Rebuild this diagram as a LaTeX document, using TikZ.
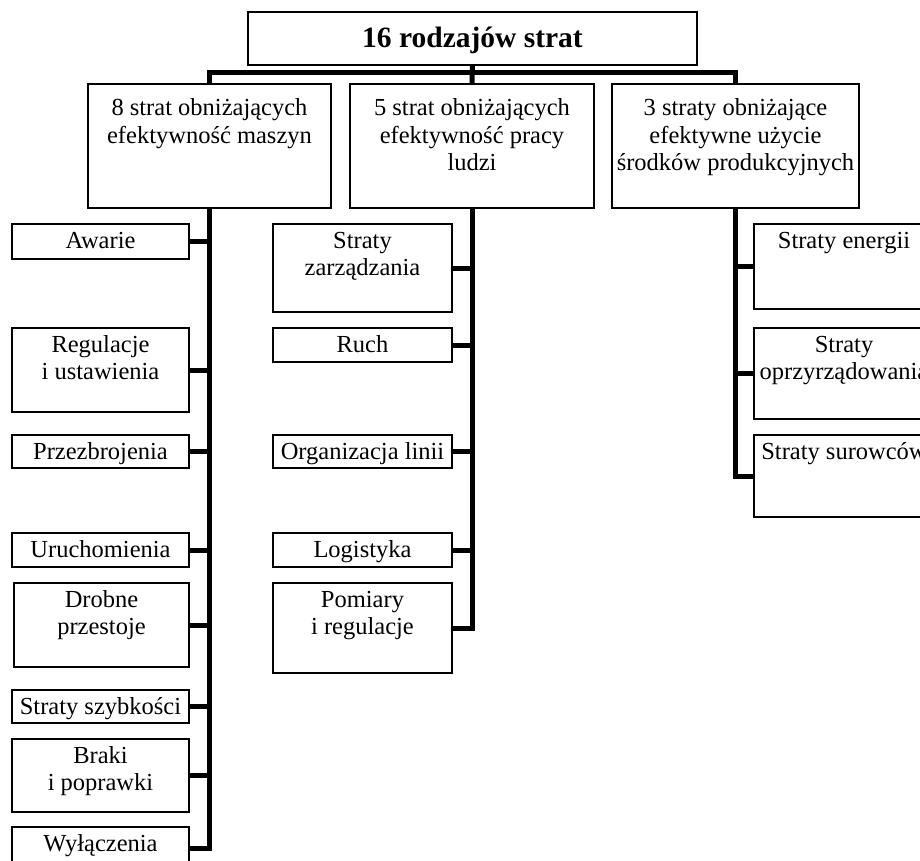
\documentclass[tikz,border=0pt]{standalone}
\usepackage{fontspec}
\setmainfont{Liberation Serif}
\tikzset{
  box/.style={draw=black, line width=1.3pt, inner sep=0pt, outer sep=0pt, fill=white},
  conn/.style={draw=black, line width=5pt, line join=miter, line cap=butt},
}
% name, x1, y1, x2, y2, first-baseline offset, font, text
\newcommand\bx[8]{%
  \node[box, anchor=north west] (#1) at (#2,#3)
    {\parbox[c][\dimexpr#5pt-#3pt\relax][t]{\dimexpr#4pt-#2pt\relax}%
      {#7\centering\rule{0pt}{#6pt}#8\par}};}
\newcommand\nf{\fontsize{24.5}{27.5}\selectfont}
\newcommand\tf{\fontsize{29.5}{32}\selectfont\bfseries}
\begin{document}
\begin{tikzpicture}[x=1pt,y=-1pt]
\useasboundingbox (0,0) rectangle (920,861);
\clip (0,0) rectangle (920,861);
% top
\bx{top}{248}{12}{697}{65}{35.5}{\tf}{16 rodzajów strat}
% level 2
\bx{b1}{88}{84}{331}{208}{32}{\nf}{8 strat obniżających\\efektywność maszyn}
\bx{b2}{350}{84}{594}{208}{32}{\nf}{5 strat obniżających\\efektywność pracy\\ludzi}
\bx{b3}{612}{84}{859}{208}{32}{\nf}{3 straty obniżające\\efektywne użycie\\środków produkcyjnych}
% left leaves
\bx{l1}{12}{224}{189}{259}{24}{\nf}{Awarie}
\bx{l2}{12}{328}{189}{412}{24}{\nf}{Regulacje\\i ustawienia}
\bx{l3}{12}{435}{189}{468}{24}{\nf}{Przezbrojenia}
\bx{l4}{12}{533}{189}{567}{24}{\nf}{Uruchomienia}
\bx{l5}{14}{583}{189}{667}{24}{\nf}{Drobne\\przestoje}
\bx{l6}{12}{690}{189}{723}{24}{\nf}{Straty szybkości}
\bx{l7}{12}{739}{189}{812}{24}{\nf}{Braki\\i poprawki}
\bx{l8}{12}{827}{189}{869}{24}{\nf}{Wyłączenia}
% middle leaves
\bx{m1}{273}{224}{452}{312}{24}{\nf}{Straty\\zarządzania}
\bx{m2}{273}{328}{452}{362}{24}{\nf}{Ruch}
\bx{m3}{273}{435}{452}{468}{24}{\nf}{Organizacja linii}
\bx{m4}{273}{533}{452}{567}{24}{\nf}{Logistyka}
\bx{m5}{273}{583}{452}{673}{24}{\nf}{Pomiary\\i regulacje}
% right leaves
\bx{r1}{754}{224}{934}{309}{24}{\nf}{Straty energii}
\bx{r2}{754}{328}{934}{419}{24}{\nf}{Straty\\oprzyrządowania}
\bx{r3}{754}{435}{934}{517}{24}{\nf}{Straty surowców}
% bus
\draw[conn] (top.south) -- (b2.north);
\draw[conn] (b1.north) -- ++(0,-11) -| (b3.north);
% left trunk
\draw[conn] (b1.south) |- (l8.east);
\foreach \n in {l1,l2,l3,l4,l5,l6,l7}
  \draw[conn] (\n.east) -- (\n.east -| b1.south);
% middle trunk
\draw[conn] (b2.south) |- (m5.east);
\foreach \n in {m1,m2,m3,m4}
  \draw[conn] (\n.east) -- (\n.east -| b2.south);
% right trunk
\draw[conn] (b3.south) |- (r3.west);
\foreach \n in {r1,r2}
  \draw[conn] (\n.west) -- (\n.west -| b3.south);
\end{tikzpicture}
\end{document}
